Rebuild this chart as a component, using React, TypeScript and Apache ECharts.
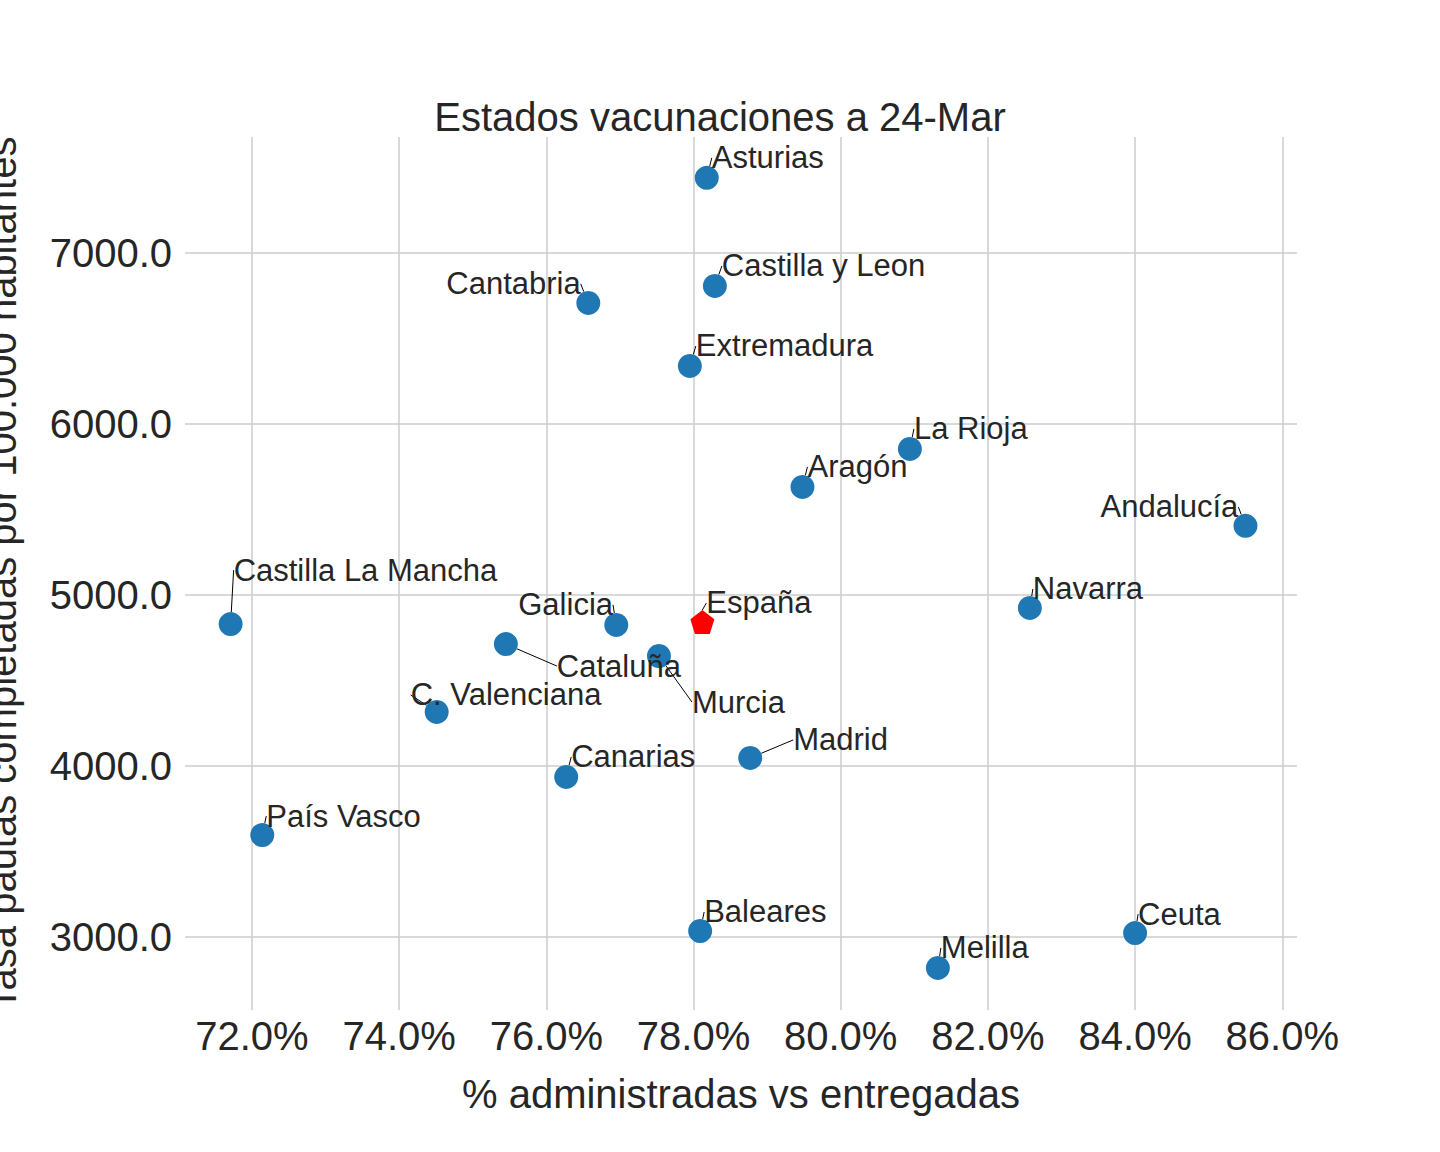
import React, { useEffect, useRef } from "react";
import * as echarts from "echarts";

const names = ["Asturias","Castilla y Leon","Cantabria","Extremadura","La Rioja","Aragón","Andalucía","Navarra","Castilla La Mancha","Galicia","Cataluña","Murcia","C. Valenciana","Madrid","Canarias","País Vasco","Baleares","Ceuta","Melilla"];
const pctAdmin = [78.18,78.29,76.57,77.95,80.94,79.48,85.50,82.57,71.71,76.95,75.45,77.53,74.51,78.77,76.27,72.14,78.09,84.0,81.32];
const tasa = [7439,6807,6708,6339,5854,5632,5404,4924,4830,4825,4713,4643,4316,4047,3936,3596,3035,3023,2819];
const labelDx = [5,7,-142,6,4,5,-145,3,3,-98,51,33,-26,43,5,4,4,3,3];
const labelDy = [-20,-20,-19,-20,-20,-20,-19,-19,-54,-20,22,46,-17,-18,-20,-19,-19,-19,-20];
const spain = { name: "España", x: 78.12, y: 4842, dx: 4, dy: -19 };
const xTicks = [72,74,76,78,80,82,84,86];
const yTicks = [3000,4000,5000,6000,7000];

export default function App() {
  const ref = useRef<HTMLDivElement>(null);
  useEffect(() => {
    const chart = echarts.init(ref.current!, null, { renderer: "svg" });
    const font = "'Liberation Sans', Arial, sans-serif";
    const lbl = { show: true, position: "inside", align: "left", verticalAlign: "middle", fontSize: 31, color: "#262626", fontFamily: font, formatter: (p: any) => p.name };
    const grid = [
      ...xTicks.map(v => ({ xAxis: v })),
      ...yTicks.map(v => ({ yAxis: v })),
    ];
    chart.setOption({
      animation: false,
      title: { text: "Estados vacunaciones a 24-Mar", left: "center", top: 92, textStyle: { fontSize: 40, fontWeight: "normal", color: "#262626", fontFamily: font } },
      grid: { left: 185, right: 143, top: 137, bottom: 142, containLabel: false, outerBoundsMode: "none" },
      xAxis: {
        type: "value", min: 71.09, max: 86.2,
        name: "% administradas vs entregadas", nameLocation: "middle", nameGap: 64,
        nameTextStyle: { fontSize: 40, color: "#262626", fontFamily: font },
        axisLine: { show: false }, axisTick: { show: false }, splitLine: { show: false },
        axisLabel: { customValues: xTicks, formatter: (v: number) => v.toFixed(1) + "%", fontSize: 40, color: "#262626", fontFamily: font, margin: 6 },
      },
      yAxis: {
        type: "value", min: 2573, max: 7678,
        name: "Tasa pautas completadas por 100.000 habitantes", nameLocation: "middle", nameGap: 163,
        nameTextStyle: { fontSize: 40, color: "#262626", fontFamily: font },
        axisLine: { show: false }, axisTick: { show: false }, splitLine: { show: false },
        axisLabel: { customValues: yTicks, formatter: (v: number) => v.toFixed(1), fontSize: 40, color: "#262626", fontFamily: font, margin: 13 },
      },
      series: [
        {
          type: "scatter", symbolSize: 24, silent: true,
          itemStyle: { color: "#1f77b4", opacity: 1 },
          data: names.map((n, i) => ({ name: n, value: [pctAdmin[i], tasa[i]] })),
          label: lbl,
          labelLine: { show: true, lineStyle: { color: "#000", width: 1 } },
          labelLayout: (p: any) => ({ dx: labelDx[p.dataIndex], dy: labelDy[p.dataIndex] }),
          markLine: { silent: true, symbol: "none", label: { show: false }, lineStyle: { color: "#cccccc", width: 1.5, type: "solid" }, data: grid, z: 0 },
          z: 3,
        },
        {
          type: "scatter", symbol: "path://M0,-1 L0.951,-0.309 L0.588,0.809 L-0.588,0.809 L-0.951,-0.309 Z", symbolSize: 24, silent: true,
          itemStyle: { color: "#ff0000", opacity: 1 },
          data: [{ name: spain.name, value: [spain.x, spain.y] }],
          label: { ...lbl, color: "#262626" },
          labelLine: { show: true, lineStyle: { color: "#000", width: 1 } },
          labelLayout: () => ({ dx: spain.dx, dy: spain.dy }),
          z: 4,
        },
      ],
    });
    return () => chart.dispose();
  }, []);
  return <div ref={ref} style={{ position: "fixed", left: 0, top: 0, width: 1440, height: 1152, background: "#fff" }} />;
}
